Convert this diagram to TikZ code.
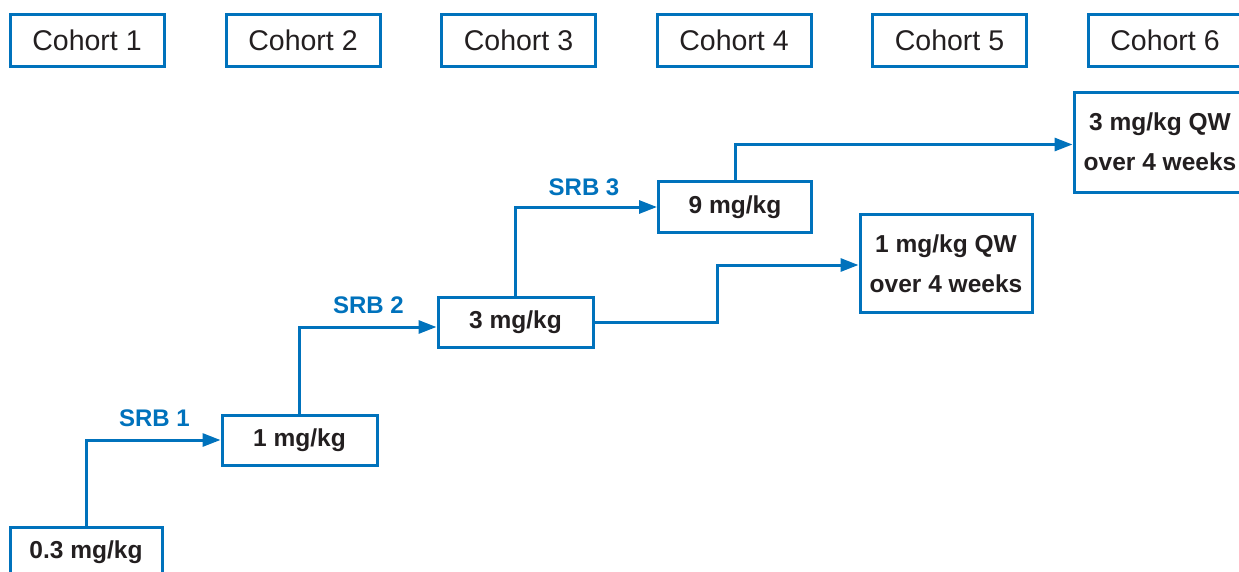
\documentclass[tikz,border=0pt]{standalone}
\usepackage{fontspec}
\setmainfont{Liberation Sans}
\usetikzlibrary{arrows.meta}
\definecolor{cblue}{RGB}{0,114,188}
\definecolor{ctext}{RGB}{35,31,32}
\newcommand{\lowtxt}[1]{\raisebox{-3pt}{#1}}
\tikzset{
  box/.style={draw=cblue, line width=3pt, inner sep=0pt, text=ctext, align=center},
  cohort/.style={box, minimum width=154pt, minimum height=52pt, font=\fontsize{28.5}{34}\selectfont},
  dose/.style={box, minimum height=50pt, font=\bfseries\fontsize{24.5}{40}\selectfont},
  conn/.style={draw=cblue, line width=3pt, -{Triangle[length=18pt,width=13pt]}},
  srb/.style={text=cblue, font=\bfseries\fontsize{24}{28}\selectfont, inner sep=0pt}
}
\begin{document}
\begin{tikzpicture}[x=1pt,y=-1pt]
\useasboundingbox (0,0) rectangle (1239,571);
\clip (0,0) rectangle (1239,571);
\fill[white] (0,0) rectangle (1239,571);
% cohort headers
\node[cohort] (c1) at (87,40) {Cohort 1};
\node[cohort] (c2) at (303,40) {Cohort 2};
\node[cohort] (c3) at (518.5,40) {Cohort 3};
\node[cohort] (c4) at (734,40) {Cohort 4};
\node[cohort] (c5) at (949.5,40) {Cohort 5};
\node[cohort] (c6) at (1165,40) {Cohort 6};
% dose boxes
\node[dose, minimum width=152pt] (d1) at (86,552) {\lowtxt{0.3 mg/kg}};
\node[dose, minimum width=155pt] (d2) at (299.5,440) {\lowtxt{1 mg/kg}};
\node[dose, minimum width=155pt] (d3) at (515.5,322) {\lowtxt{3 mg/kg}};
\node[dose, minimum width=153pt, minimum height=51pt] (d4) at (735,207) {\lowtxt{9 mg/kg}};
\node[dose, minimum width=172pt, minimum height=98pt] (q1) at (946,263.5) {1 mg/kg QW\\over 4 weeks};
\node[dose, minimum width=172pt, minimum height=100pt] (q2) at (1160,142) {3 mg/kg QW\\over 4 weeks};
% connectors
\draw[conn] (d1.north) |- (d2.west);
\draw[conn] (d2.north) |- ([yshift=-5pt]d3.west);
\draw[conn] (d3.north) |- (d4.west);
\draw[conn] (d3.east) -- ++(123,0) |- ([yshift=-1.5pt]q1.west);
\draw[conn] (d4.north) |- ([yshift=-2.5pt]q2.west);
% labels
\node[srb] (s1) at (154.5,418.5) {SRB 1};
\node[srb] (s2) at (368.5,305) {SRB 2};
\node[srb] (s3) at (584,187) {SRB 3};
\end{tikzpicture}
\end{document}
